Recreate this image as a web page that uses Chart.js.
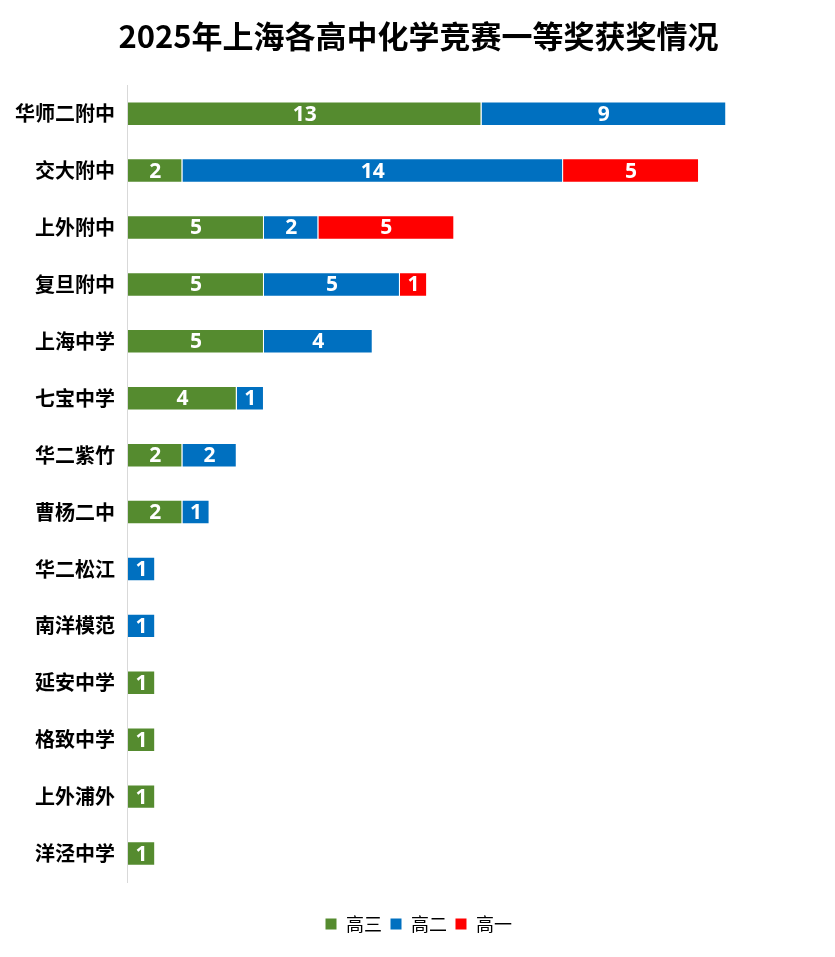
<!DOCTYPE html>
<html>
<head>
<meta charset="utf-8">
<script src="https://cdn.jsdelivr.net/npm/chart.js@4"></script>
<style>
  html, body { margin: 0; padding: 0; background: #fff; }
  #wrap { width: 835px; height: 957px; }
</style>
</head>
<body>
<div id="wrap"><canvas id="awardChart" width="835" height="957"></canvas></div>
<script>
const schools = ["华师二附中", "交大附中", "上外附中", "复旦附中", "上海中学", "七宝中学", "华二紫竹",
  "曹杨二中", "华二松江", "南洋模范", "延安中学", "格致中学", "上外浦外", "洋泾中学"];
const grade12 = [13, 2, 5, 5, 5, 4, 2, 2, null, null, 1, 1, 1, 1];
const grade11 = [9, 14, 2, 5, 4, 1, 2, 1, 1, 1, null, null, null, null];
const grade10 = [null, 5, 5, 1, null, null, null, null, null, null, null, null, null, null];

const cjkFont = "'Noto Sans CJK SC', 'Noto Sans', sans-serif";

// 在每段条形中间写数字
const barLabels = {
  id: "barLabels",
  afterDatasetsDraw(chart) {
    const ctx = chart.ctx;
    ctx.save();
    ctx.fillStyle = "#fff";
    ctx.font = "bold 21px 'Open Sans', 'Noto Sans', sans-serif";
    ctx.textAlign = "center";
    ctx.textBaseline = "middle";
    chart.data.datasets.forEach((ds, i) => {
      const meta = chart.getDatasetMeta(i);
      if (meta.hidden) return;
      meta.data.forEach((bar, j) => {
        const v = ds.data[j];
        if (v == null || v === 0) return;
        const x = (bar.x + bar.base) / 2;
        ctx.fillText(String(v), x, bar.y + 1);
      });
    });
    ctx.restore();
  }
};

new Chart(document.getElementById("awardChart"), {
  type: "bar",
  data: {
    labels: schools,
    datasets: [
      { label: "高三", data: grade12, backgroundColor: "#558B2F", borderColor: "#fff", borderWidth: 1 },
      { label: "高二", data: grade11, backgroundColor: "#0070C0", borderColor: "#fff", borderWidth: 1 },
      { label: "高一", data: grade10, backgroundColor: "#FF0000", borderColor: "#fff", borderWidth: 1 }
    ]
  },
  options: {
    indexAxis: "y",
    responsive: false,
    animation: false,
    datasets: { bar: { categoryPercentage: 1, barPercentage: 0.43 } },
    layout: { padding: { left: 2, right: 0, top: 0, bottom: 14 } },
    scales: {
      x: {
        stacked: true,
        min: 0,
        max: 26,
        grid: { display: false },
        border: { display: false },
        ticks: { display: false },
        // 留出图例上方的空白
        afterFit(scale) { scale.height = 25; }
      },
      y: {
        stacked: true,
        grid: { display: false, drawTicks: false },
        border: { display: true, color: "#d9d9d9", width: 1 },
        ticks: {
          color: "#000",
          padding: 13,
          font: { family: cjkFont, size: 20, weight: "bold" }
        }
      }
    },
    plugins: {
      title: {
        display: true,
        text: "2025年上海各高中化学竞赛一等奖获奖情况",
        color: "#000",
        font: { family: cjkFont, size: 31, weight: "bold" },
        padding: { top: 18, bottom: 30 }
      },
      legend: {
        position: "bottom",
        labels: {
          color: "#000",
          boxWidth: 12,
          boxHeight: 12,
          padding: 8,
          font: { family: cjkFont, size: 18 }
        }
      },
      tooltip: { enabled: false }
    }
  },
  plugins: [barLabels]
});
</script>
</body>
</html>
